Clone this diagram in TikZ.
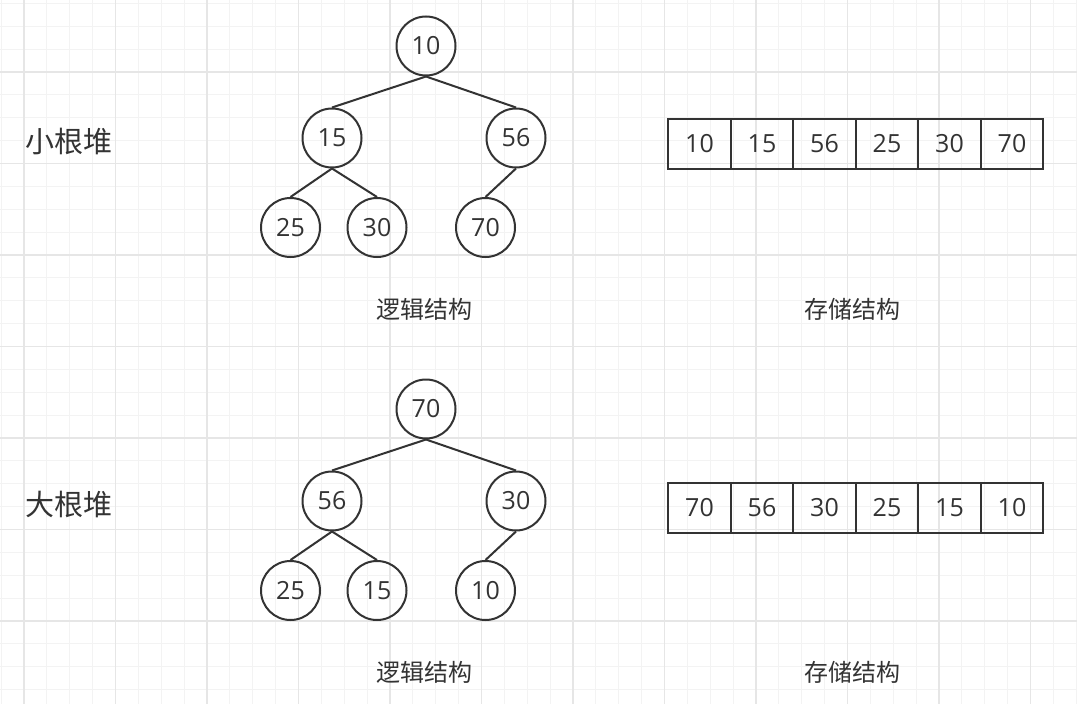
\documentclass[tikz,border=0pt]{standalone}
\usepackage{fontspec}
\setmainfont{Noto Sans CJK SC}
\newfontfamily\digitfont{Open Sans}
\usetikzlibrary{positioning}
\definecolor{ink}{HTML}{333333}
\definecolor{gridminor}{HTML}{F3F3F3}
\definecolor{gridmajor}{HTML}{E6E6E6}
\tikzset{
  heap/.style={circle, draw=ink, line width=2pt, minimum size=59pt, inner sep=0pt,
    text=ink, font=\digitfont\fontsize{25}{29}\selectfont},
  cell/.style={rectangle, draw=ink, line width=2pt, minimum width=62.5pt,
    minimum height=50pt, inner sep=0pt, text=ink, font=\digitfont\fontsize{25}{29}\selectfont},
  title/.style={text=ink, font=\fontsize{29}{34}\selectfont},
  caption/.style={text=ink, font=\fontsize{24}{28}\selectfont},
  edge/.style={draw=ink, line width=2pt}
}
\begin{document}
\begin{tikzpicture}[x=1pt, y=-1pt]
	\useasboundingbox (0,0) rectangle (1077,704);
	\fill[white] (0,0) rectangle (1077,704);
	% background grid
	\foreach \i in {0,...,47}
		\draw[gridminor, line width=1pt] ({1.125+22.875*\i},0) -- ++(0,704);
	\foreach \i in {0,...,30}
		\draw[gridminor, line width=1pt] (0,{3.375+22.875*\i}) -- ++(1077,0);
	\foreach \i in {0,...,11}
		\draw[gridmajor, line width=1.4pt] ({24+91.5*\i},0) -- ++(0,704);
	\foreach \i in {0,...,6}
		\draw[gridmajor, line width=1.4pt] (0,{72+91.5*\i}) -- ++(1077,0);

	% min heap
	\node[title] (minlabel) at (69,141) {小根堆};
	\node[heap] (m0) at (426,46) {10};
	\node[heap] (m1) at (332,138) {15};
	\node[heap] (m2) at (516,138) {56};
	\node[heap] (m3) at (290.5,227.5) {25};
	\node[heap] (m4) at (377,227.5) {30};
	\node[heap] (m5) at (485.5,227.5) {70};
	\draw[edge] (m0.south) -- (m1.north);
	\draw[edge] (m0.south) -- (m2.north);
	\draw[edge] (m1.south) -- (m3.north);
	\draw[edge] (m1.south) -- (m4.north);
	\draw[edge] (m2.south) -- (m5.north);
	\foreach \v [count=\k] in {10,15,56,25,30,70}
		\node[cell] (ma\k) at ({637+62.5*\k},144) {\v};
	\node[caption] (minlogic) at (424,309) {逻辑结构};
	\node[caption] (minstore) at (852,309) {存储结构};

	% max heap
	\node[title] (maxlabel) at (69,504) {大根堆};
	\node[heap] (x0) at (426,409) {70};
	\node[heap] (x1) at (332,501) {56};
	\node[heap] (x2) at (516,501) {30};
	\node[heap] (x3) at (290.5,590.5) {25};
	\node[heap] (x4) at (377,590.5) {15};
	\node[heap] (x5) at (485.5,590.5) {10};
	\draw[edge] (x0.south) -- (x1.north);
	\draw[edge] (x0.south) -- (x2.north);
	\draw[edge] (x1.south) -- (x3.north);
	\draw[edge] (x1.south) -- (x4.north);
	\draw[edge] (x2.south) -- (x5.north);
	\foreach \v [count=\k] in {70,56,30,25,15,10}
		\node[cell] (xa\k) at ({637+62.5*\k},508) {\v};
	\node[caption] (maxlogic) at (424,672) {逻辑结构};
	\node[caption] (maxstore) at (852,672) {存储结构};
\end{tikzpicture}
\end{document}
